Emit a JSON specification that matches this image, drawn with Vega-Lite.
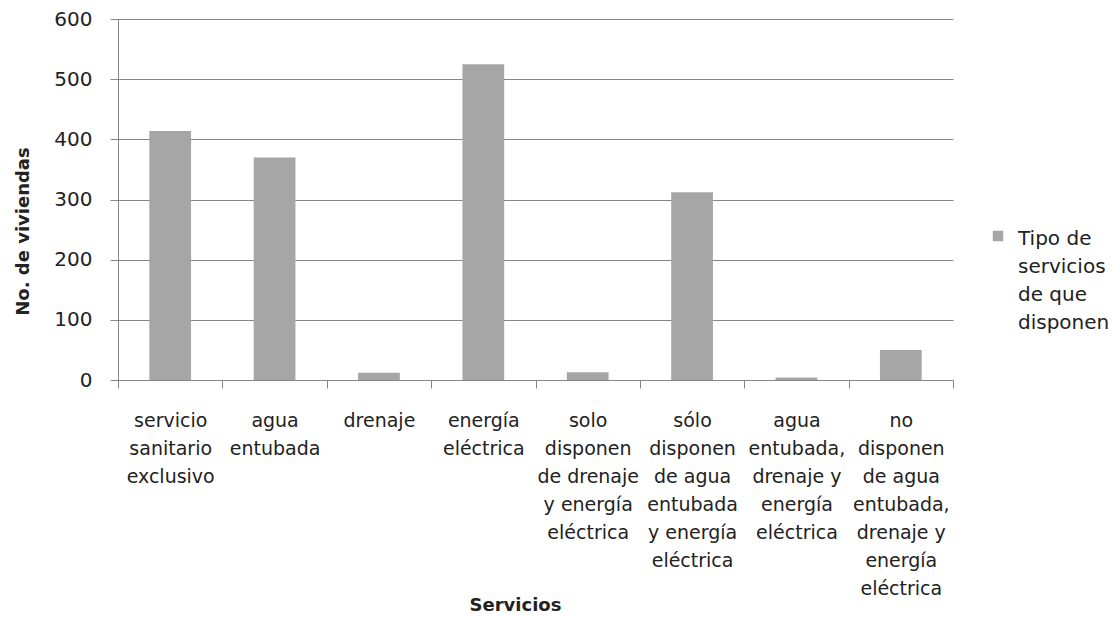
{
  "$schema": "https://vega.github.io/schema/vega-lite/v6.json",
  "width": 835,
  "height": 361,
  "autosize": {"type": "none"},
  "padding": {"left": 118, "top": 19, "right": 162, "bottom": 237},
  "background": "white",
  "data": {
    "values": [
      {"servicio": "servicio sanitario exclusivo", "viviendas": 414, "serie": "Tipo de servicios de que disponen"},
      {"servicio": "agua entubada", "viviendas": 370, "serie": "Tipo de servicios de que disponen"},
      {"servicio": "drenaje", "viviendas": 12, "serie": "Tipo de servicios de que disponen"},
      {"servicio": "energía eléctrica", "viviendas": 525, "serie": "Tipo de servicios de que disponen"},
      {"servicio": "solo disponen de drenaje y energía eléctrica", "viviendas": 13, "serie": "Tipo de servicios de que disponen"},
      {"servicio": "sólo disponen de agua entubada y energía eléctrica", "viviendas": 312, "serie": "Tipo de servicios de que disponen"},
      {"servicio": "agua entubada, drenaje y energía eléctrica", "viviendas": 4, "serie": "Tipo de servicios de que disponen"},
      {"servicio": "no disponen de agua entubada, drenaje y energía eléctrica", "viviendas": 50, "serie": "Tipo de servicios de que disponen"}
    ]
  },
  "mark": {"type": "bar", "width": {"band": 0.4}},
  "encoding": {
    "x": {
      "field": "servicio",
      "type": "nominal",
      "sort": null,
      "scale": {"paddingInner": 0, "paddingOuter": 0},
      "axis": {
        "title": "Servicios",
        "titleFont": "DejaVu Sans",
        "titleFontSize": 18,
        "titleFontWeight": "bold",
        "titleColor": "#222222",
        "titleX": 397,
        "titleY": 225,
        "titleAlign": "center",
        "titleBaseline": "middle",
        "labelAngle": 0,
        "labelFont": "DejaVu Sans",
        "labelFontSize": 19,
        "labelColor": "#222222",
        "labelLineHeight": 28,
        "labelBaseline": "top",
        "labelPadding": 23,
        "labelLimit": 0,
        "labelExpr": "({'servicio sanitario exclusivo': ['servicio','sanitario','exclusivo'], 'agua entubada': ['agua','entubada'], 'drenaje': ['drenaje'], 'energía eléctrica': ['energía','eléctrica'], 'solo disponen de drenaje y energía eléctrica': ['solo','disponen','de drenaje','y energía','eléctrica'], 'sólo disponen de agua entubada y energía eléctrica': ['sólo','disponen','de agua','entubada','y energía','eléctrica'], 'agua entubada, drenaje y energía eléctrica': ['agua','entubada,','drenaje y','energía','eléctrica'], 'no disponen de agua entubada, drenaje y energía eléctrica': ['no','disponen','de agua','entubada,','drenaje y','energía','eléctrica']})[datum.value]",
        "tickBand": "extent",
        "tickSize": 8,
        "tickColor": "#868686",
        "domainColor": "#868686",
        "grid": false
      }
    },
    "y": {
      "field": "viviendas",
      "type": "quantitative",
      "scale": {"domain": [0, 600], "nice": false},
      "axis": {
        "title": "No. de viviendas",
        "titleFont": "DejaVu Sans",
        "titleFontSize": 18,
        "titleFontWeight": "bold",
        "titleColor": "#222222",
        "titleX": -95,
        "titleY": 212,
        "titleAlign": "center",
        "titleBaseline": "middle",
        "values": [0, 100, 200, 300, 400, 500, 600],
        "labelFont": "DejaVu Sans",
        "labelFontSize": 20,
        "labelColor": "#222222",
        "labelPadding": 18,
        "tickSize": 8,
        "tickColor": "#868686",
        "domainColor": "#868686",
        "grid": true,
        "gridColor": "#868686",
        "gridWidth": 1
      }
    },
    "color": {
      "field": "serie",
      "type": "nominal",
      "scale": {"range": ["#A6A6A6"]},
      "legend": {
        "title": null,
        "orient": "none",
        "legendX": 870,
        "legendY": 207,
        "symbolType": "square",
        "symbolSize": 110,
        "symbolStrokeWidth": 0,
        "labelFont": "DejaVu Sans",
        "labelFontSize": 20,
        "labelColor": "#222222",
        "labelLimit": 0,
        "labelBaseline": "top",
        "labelOffset": 10,
        "labelExpr": "['Tipo de','servicios','de que','disponen']",
        "encode": {"labels": {"update": {"lineHeight": {"value": 28}, "dy": {"value": -7}}}}
      }
    }
  },
  "config": {"view": {"stroke": null}}
}
